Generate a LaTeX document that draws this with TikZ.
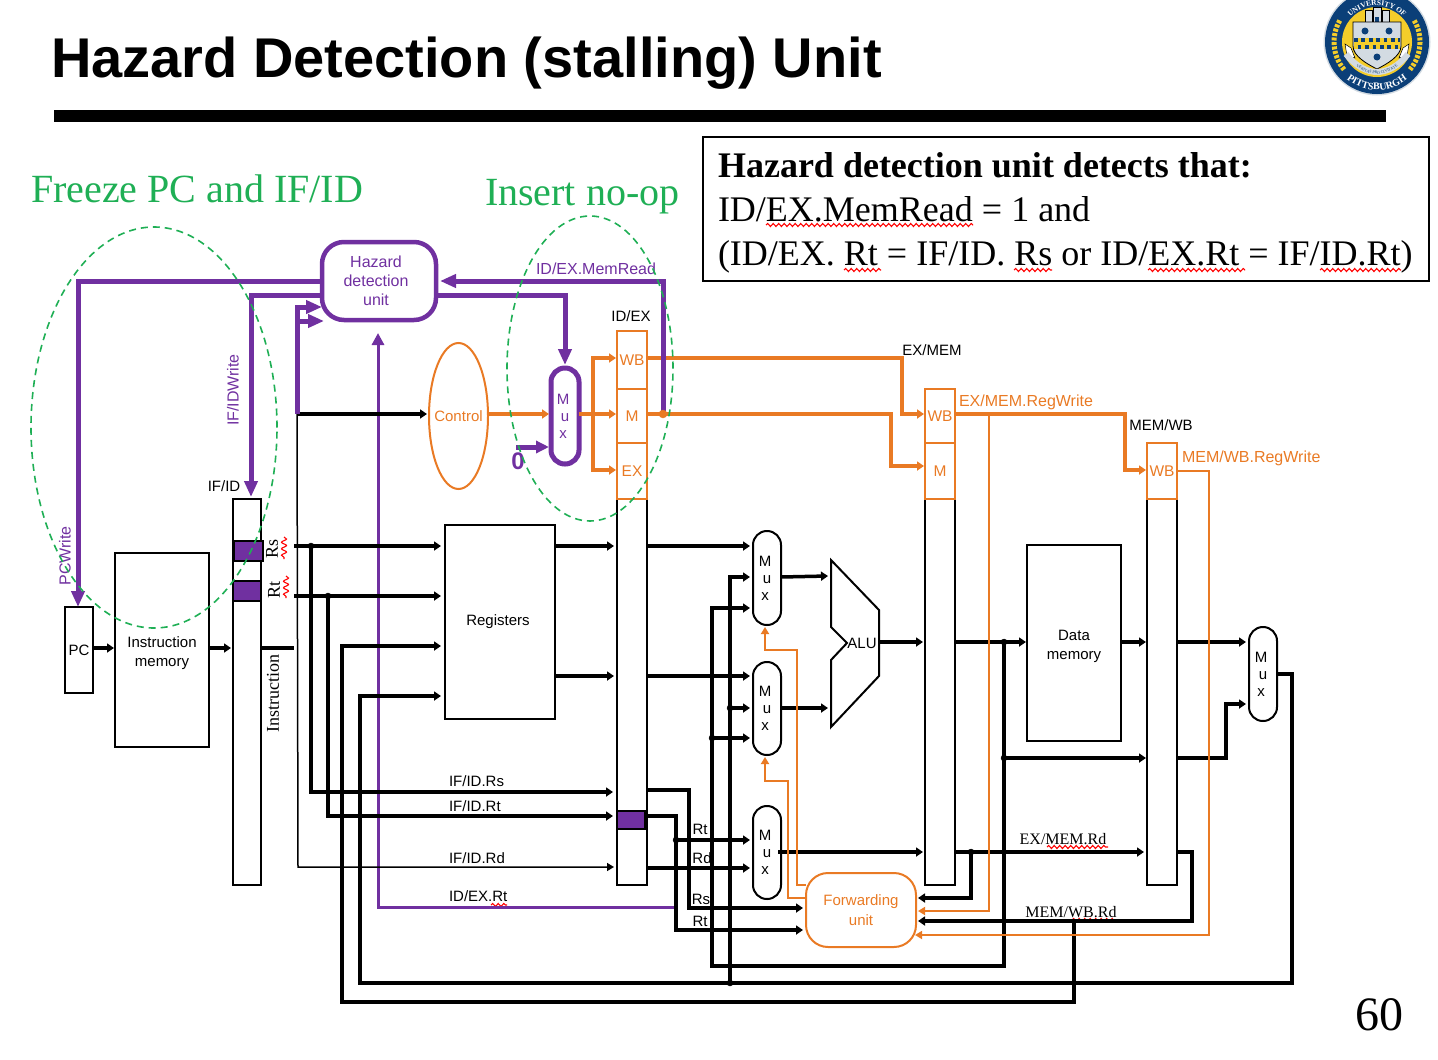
\documentclass[tikz,border=0pt]{standalone}
\usepackage{fontspec}
\usetikzlibrary{arrows.meta,decorations.pathmorphing,decorations.text,shapes.geometric}
\setmainfont{Liberation Sans}
\newfontfamily\timesfont{Liberation Serif}
\definecolor{hazpurple}{HTML}{7030A0}
\definecolor{fwdorange}{HTML}{E97A24}
\definecolor{notegreen}{HTML}{1FAF55}
\definecolor{sealnavy}{HTML}{0B3F78}
\definecolor{sealgold}{HTML}{F4CD2A}
\definecolor{sealgray}{HTML}{D3DBE2}
\newcommand{\muxtext}{M\hspace*{4pt}\\u\hspace*{4pt}\\x\hspace*{4pt}}
\tikzset{
  wh/.style 2 args={minimum width=#1pt,minimum height=#2pt},
  blockbox/.style={draw=black,line width=2pt,inner sep=0pt,outer sep=0pt,align=center,font=\fontsize{15}{19}\selectfont},
  muxbox/.style={blockbox,rounded corners=13.9pt,font=\fontsize{15}{17}\selectfont},
  cellbox/.style={draw=fwdorange,text=fwdorange,line width=2pt,inner sep=0pt,outer sep=0pt,font=\fontsize{15.5}{18}\selectfont},
  stagebox/.style={draw=black,fill=hazpurple,line width=2pt,inner sep=0pt,outer sep=0pt},
  ringnote/.style={draw=notegreen,line width=1.6pt,dash pattern=on 7pt off 5pt,ellipse,inner sep=0pt,outer sep=0pt},
  lab/.style={inner sep=0pt,outer sep=0pt,font=\fontsize{15}{18}\selectfont},
  purplelab/.style={lab,text=hazpurple,font=\fontsize{16}{18}\selectfont},
  orangelab/.style={lab,text=fwdorange,font=\fontsize{16}{18}\selectfont},
  seriflab/.style={lab,font=\timesfont\fontsize{16}{18}\selectfont},
  notelab/.style={lab,anchor=base west,font=\timesfont\fontsize{36}{40}\selectfont},
  greenlab/.style={lab,anchor=base west,text=notegreen,font=\timesfont\fontsize{40}{44}\selectfont},
  datawire/.style={draw=black,line width=3.5pt,-{Triangle[length=7pt,width=9pt]}},
  dataline/.style={draw=black,line width=3.5pt},
  thinwire/.style={draw=black,line width=1.5pt,-{Triangle[length=7pt,width=8pt]}},
  ctlwire/.style={draw=hazpurple,line width=5pt,-{Triangle[length=16pt,width=13pt]}},
  ctlthin/.style={draw=hazpurple,line width=3pt,-{Triangle[length=12pt,width=12pt]}},
  orangewire/.style={draw=fwdorange,line width=3.5pt,-{Triangle[length=7pt,width=9pt]}},
  orangethin/.style={draw=fwdorange,line width=2pt,-{Triangle[length=7pt,width=8pt]}},
  redwave/.style={draw=red,line width=1.1pt,decorate,decoration={snake,amplitude=1.5pt,segment length=5.5pt}},
  redwaveup/.style={draw=red,line width=1.1pt,decorate,decoration={snake,amplitude=2.5pt,segment length=6.5pt}}
}
\begin{document}
\begin{tikzpicture}[x=1pt,y=-1pt]
\useasboundingbox (0,0) rectangle (1438,1060);

\node[lab,anchor=base west,font=\bfseries\fontsize{56}{60}\selectfont] (titleText) at (51,77) {Hazard Detection (stalling) Unit};
\fill[black] (54,110) rectangle (1386,122);
\node[lab,font=\timesfont\fontsize{48}{50}\selectfont] (pageNum) at (1379,1015) {60};

\begin{scope}[shift={(1377,42)},x=1pt,y=1pt]
\fill[sealgray] (0,0) circle (53.5pt);
\fill[sealnavy] (0,0) circle (52pt);
\fill[sealgold] (0,0) circle (35pt);
\draw[sealgold,line width=5pt,dash pattern=on 3pt off 1.5pt] (150:43pt) arc[start angle=150,end angle=220,radius=43pt];
\draw[sealgold,line width=5pt,dash pattern=on 3pt off 1.5pt] (30:43pt) arc[start angle=30,end angle=-40,radius=43pt];
\path[decorate,decoration={text along path,text align=center,text={|\color{white}\timesfont\bfseries\fontsize{7.5}{8}\selectfont|UNIVERSITY OF}}] (160:36.5pt) arc[start angle=160,end angle=20,radius=36.5pt];
\path[decorate,decoration={text along path,text align=center,text={|\color{white}\timesfont\bfseries\fontsize{10}{10}\selectfont|PITTSBURGH}}] (215:48pt) arc[start angle=215,end angle=325,radius=48pt];
\fill[sealgray,draw=black,line width=.5pt] (-12,20) rectangle (-5,32);
\fill[sealgray,draw=black,line width=.5pt] (-4,20) rectangle (4,35);
\fill[sealgray,draw=black,line width=.5pt] (5,20) rectangle (12,32);
\fill[sealnavy] (-2,20) rectangle (2,25);
\draw[fill=sealgray,draw=black,line width=.8pt] (-24,20) -- (24,20) -- (24,-4) .. controls (24,-14) and (10,-22) .. (0,-27) .. controls (-10,-22) and (-24,-14) .. (-24,-4) -- cycle;
\fill[sealgold] (-23,4) rectangle (23,-7);
\draw[sealnavy,line width=3.7pt,dash pattern=on 3.7pt off 3.7pt] (-23,2.2) -- (23,2.2);
\draw[sealnavy,line width=3.7pt,dash pattern=on 3.7pt off 3.7pt] (-19.3,-5.2) -- (23,-5.2);
\fill[sealnavy] (-12,11) circle (3.5pt);
\fill[sealnavy] (12,11) circle (3.5pt);
\fill[sealnavy] (0,-15) circle (3.5pt);
\fill[white,draw=black,line width=.5pt] (-32,-2) -- (-26,-6) -- (-22,-16) -- (-30,-14) -- cycle;
\fill[white,draw=black,line width=.5pt] (32,-2) -- (26,-6) -- (22,-16) -- (30,-14) -- cycle;
\draw[sealgray,line width=6pt] (-31,-12) .. controls (-22,-24) and (-10,-30) .. (0,-30) .. controls (10,-30) and (22,-24) .. (31,-12);
\path[decorate,decoration={text along path,text align=center,text={|\color{sealnavy}\timesfont\fontsize{4}{4}\selectfont|VERITAS PRO CIVITATE}}] (-31,-14) .. controls (-22,-26) and (-10,-32) .. (0,-32) .. controls (10,-32) and (22,-26) .. (31,-14);
\end{scope}

\node[draw=black,line width=2pt,inner sep=0pt,outer sep=0pt,wh={726}{144}] (noteBox) at (1066,209) {};
\node[notelab,font=\timesfont\bfseries\fontsize{36}{40}\selectfont] (noteHead) at (718,177) {Hazard detection unit detects that:};
\node[notelab] (noteLineA) at (718,221) {ID/EX.MemRead = 1 and};
\node[notelab] (noteLineB) at (718,265) {(ID/EX. Rt = IF/ID. Rs or ID/EX.Rt = IF/ID.Rt)};
\draw[redwave] (766,225) -- (973,225);
\draw[redwave] (844,270) -- (881,270);
\draw[redwave] (1014,270) -- (1052,270);
\draw[redwave] (1148,270) -- (1245,270);
\draw[redwave] (1320,270) -- (1401,270);

\node[greenlab] (freezeText) at (31,202) {Freeze PC and IF/ID};
\node[greenlab] (insertText) at (485,205) {Insert no-op};

\node[blockbox,wh={28}{86}] (pcBox) at (79,650) {PC};
\node[blockbox,wh={94}{194}] (instrMem) at (162,650) {\rule{0pt}{17pt}Instruction\\memory};
\node[blockbox,wh={110}{194}] (registers) at (500,622) {Registers\hspace*{4pt}};
\node[blockbox,wh={94}{196}] (dataMem) at (1074,643) {\rule{0pt}{17pt}Data\\memory};
\node[blockbox,wh={28}{386}] (ifidReg) at (247,692) {};
\node[blockbox,wh={30}{386}] (idexReg) at (632,692) {};
\node[blockbox,wh={30}{386}] (exmemReg) at (940,692) {};
\node[blockbox,wh={30}{386}] (memwbReg) at (1162,692) {};
\node[stagebox,wh={29}{20}] (rsSlot) at (248.5,551) {};
\node[stagebox,wh={28}{20}] (rtSlot) at (247,591) {};
\node[stagebox,wh={28}{18}] (rtFwdSlot) at (631,820) {};

\node[cellbox,wh={30}{58}] (idexWb) at (632,360) {WB};
\node[cellbox,wh={30}{54}] (idexM) at (632,416) {M};
\node[cellbox,wh={30}{56}] (idexEx) at (632,471) {EX};
\node[cellbox,wh={30}{54}] (exmemWb) at (940,416) {WB};
\node[cellbox,wh={30}{56}] (exmemM) at (940,471) {M};
\node[cellbox,wh={30}{56}] (memwbWb) at (1162,471) {WB};

\node[muxbox,wh={28}{94}] (muxA) at (767,578) {\muxtext};
\node[muxbox,wh={28}{93}] (muxB) at (767,708.5) {\muxtext};
\node[muxbox,wh={28}{93}] (muxC) at (767,852.5) {\muxtext};
\node[muxbox,wh={28}{94}] (muxD) at (1263,674) {\muxtext};
\node[muxbox,draw=hazpurple,text=hazpurple,line width=5pt,wh={28}{96}] (muxStall) at (565,416) {\muxtext};

\node[draw=hazpurple,line width=4.5pt,rounded corners=22pt,inner sep=0pt,outer sep=0pt,wh={114}{78}] (hazard) at (379,281) {};
\node[lab,text=hazpurple,align=center,font=\fontsize{16}{19}\selectfont] (hazardText) at (376,281) {Hazard\\detection\\unit};
\node[draw=fwdorange,text=fwdorange,line width=2pt,ellipse,inner ysep=0pt,inner xsep=-8pt,outer sep=0pt,font=\fontsize{15}{18}\selectfont,wh={59}{146}] (control) at (458.5,416) {Control};
\node[draw=fwdorange,text=fwdorange,line width=2pt,rounded corners=22pt,inner sep=0pt,outer sep=0pt,align=center,font=\fontsize{15}{20}\selectfont,wh={110}{74}] (fwdUnit) at (861,910) {Forwarding\\unit};

\draw[line width=2pt,line join=miter] (831,560) -- (879,610) -- (879,676) -- (831,727) -- (831,660) -- (847,643) -- (831,627) -- cycle;
\node[lab] (aluText) at (862,643) {ALU};

\node[lab] (ifidText) at (224,486) {IF/ID};
\node[lab] (idexText) at (631,316) {ID/EX};
\node[lab] (exmemText) at (932,350) {EX/MEM};
\node[lab] (memwbText) at (1161,425) {MEM/WB};
\node[lab,anchor=base west] (rsLabel) at (449,786) {IF/ID.Rs};
\node[lab,anchor=base west] (rtLabel) at (449,811) {IF/ID.Rt};
\node[lab,anchor=base west] (rdLabel) at (449,863) {IF/ID.Rd};
\node[lab,anchor=base west] (idexRtLabel) at (449,901) {ID/EX.Rt};
\node[lab] (fwdRt) at (700,829) {Rt};
\node[lab] (fwdRd) at (702,858) {Rd};
\node[lab] (fwdRs) at (701,899) {Rs};
\node[lab] (fwdRtB) at (700,921) {Rt};
\node[seriflab,rotate=90,font=\timesfont\fontsize{18}{20}\selectfont] (rsText) at (272,549) {Rs};
\node[seriflab,rotate=90,font=\timesfont\fontsize{18}{20}\selectfont] (rtText) at (274,590) {Rt};
\node[seriflab,rotate=90,font=\timesfont\fontsize{18}{20}\selectfont] (instrText) at (273,693) {Instruction};
\node[seriflab] (exmemRd) at (1063,839) {EX/MEM.Rd};
\node[seriflab] (memwbRd) at (1071,912) {MEM/WB.Rd};
\node[purplelab,rotate=90] (ifidWrite) at (233,390) {IF/IDWrite};
\node[purplelab,rotate=90] (pcWrite) at (65,556) {PCWrite};
\node[purplelab,anchor=west] (memReadText) at (536,269) {ID/EX.MemRead};
\node[lab,text=hazpurple,font=\bfseries\fontsize{24}{26}\selectfont] (zeroText) at (518,461) {0};
\node[orangelab,anchor=west] (exmemRegWrite) at (959,402) {EX/MEM.RegWrite};
\node[orangelab,anchor=west] (memwbRegWrite) at (1182,458) {MEM/WB.RegWrite};
\draw[redwave] (491,905) -- (507,905);
\draw[redwave] (1047,847) -- (1108,847);
\draw[redwave] (1072,920) -- (1117,920);
\draw[redwaveup] (284,537) -- (284,559);
\draw[redwaveup] (286,576) -- (286,598);

\coordinate (rtBack) at (676,907);
\coordinate (hazBottom) at (378,333);
\draw[ctlthin] (rtBack) -| (hazBottom);

\coordinate (pcOut) at (93,648);
\coordinate (imIn) at (114,648);
\coordinate (imOut) at (209,648);
\coordinate (ifidIn) at (231,648);
\coordinate (instrOut) at (261,648);
\coordinate (instrEnd) at (294,648);
\draw[datawire] (pcOut) -- (imIn);
\draw[datawire] (imOut) -- (ifidIn);
\draw[dataline] (instrOut) -- (instrEnd);

\coordinate (ctrlTap) at (297,414);
\coordinate (ctrlIn) at (427,414);
\coordinate (rdBend) at (298,867);
\coordinate (rdEnd) at (614,867);
\draw[datawire] (ctrlTap) -- (ctrlIn);
\draw[thinwire] (ctrlTap) -- (rdBend) -- (rdEnd);

\coordinate (rsOut) at (294,546);
\coordinate (regRs) at (441,546);
\coordinate (rsTap) at (311,546);
\coordinate (rsEnd) at (613,792);
\coordinate (rtOut) at (294,596);
\coordinate (regRt) at (441,596);
\coordinate (rtTap) at (328,596);
\coordinate (rtEnd) at (613,816);
\draw[datawire] (rsOut) -- (regRs);
\draw[datawire] (rsTap) |- (rsEnd);
\draw[datawire] (rtOut) -- (regRt);
\draw[datawire] (rtTap) |- (rtEnd);
\filldraw[black] (rsTap) circle (3pt);
\filldraw[black] (rtTap) circle (3pt);

\coordinate (mwOut) at (1177,852);
\coordinate (mwBend) at (1192,852);
\coordinate (mwFwd) at (918,921);
\coordinate (mwTap) at (1074,921);
\coordinate (mwLow) at (1074,1002);
\coordinate (mwLeft) at (342,1002);
\coordinate (regRd) at (441,646);
\draw[datawire] (mwOut) -- (mwBend) |- (mwFwd);
\draw[datawire] (mwTap) -- (mwLow) -- (mwLeft) |- (regRd);

\coordinate (muxDOut) at (1277,674);
\coordinate (wbRight) at (1292,674);
\coordinate (wbCorner) at (1292,983);
\coordinate (wbLeft) at (360,983);
\coordinate (regData) at (441,696);
\coordinate (wbTap) at (730,983);
\coordinate (muxAb) at (750,577);
\coordinate (muxBbTap) at (730,708);
\coordinate (muxBb) at (750,708);
\draw[datawire] (muxDOut) -- (wbRight) -- (wbCorner) -- (wbLeft) |- (regData);
\draw[datawire] (wbTap) |- (muxAb);
\draw[datawire] (muxBbTap) -- (muxBb);
\filldraw[black] (wbTap) circle (3pt);
\filldraw[black] (muxBbTap) circle (3pt);

\coordinate (regOutA) at (555,546);
\coordinate (idexInA) at (614,546);
\coordinate (regOutB) at (555,676);
\coordinate (idexInB) at (614,676);
\coordinate (idexOutA) at (647,546);
\coordinate (muxAa) at (750,546);
\coordinate (idexOutB) at (647,676);
\coordinate (muxBa) at (750,676);
\draw[datawire] (regOutA) -- (idexInA);
\draw[datawire] (regOutB) -- (idexInB);
\draw[datawire] (idexOutA) -- (muxAa);
\draw[datawire] (idexOutB) -- (muxBa);

\coordinate (exTap) at (1004,642);
\coordinate (exCorner) at (1004,966);
\coordinate (exLeft) at (712,966);
\coordinate (muxAc) at (750,608);
\coordinate (muxBcTap) at (712,738);
\coordinate (muxBc) at (750,738);
\draw[datawire] (exTap) -- (exCorner) -- (exLeft) |- (muxAc);
\draw[datawire] (muxBcTap) -- (muxBc);
\filldraw[black] (muxBcTap) circle (3pt);

\coordinate (muxAOut) at (781,577);
\coordinate (aluA) at (828,576);
\coordinate (muxBOut) at (781,708);
\coordinate (aluB) at (828,708);
\coordinate (aluOut) at (879,642);
\coordinate (exmemIn) at (923,642);
\draw[datawire] (muxAOut) -- (aluA);
\draw[datawire] (muxBOut) -- (aluB);
\draw[datawire] (aluOut) -- (exmemIn);

\coordinate (exmemOut) at (955,642);
\coordinate (dmIn) at (1026,642);
\coordinate (bypassTap) at (1004,758);
\coordinate (bypassIn) at (1146,758);
\coordinate (dmOut) at (1121,642);
\coordinate (memwbIn) at (1146,642);
\coordinate (memwbOut) at (1177,642);
\coordinate (muxDa) at (1246,642);
\coordinate (bypassOut) at (1177,758);
\coordinate (bypassBend) at (1226,758);
\coordinate (muxDb) at (1246,704);
\draw[datawire] (exmemOut) -- (dmIn);
\draw[datawire] (bypassTap) -- (bypassIn);
\draw[datawire] (dmOut) -- (memwbIn);
\draw[datawire] (memwbOut) -- (muxDa);
\draw[datawire] (bypassOut) -- (bypassBend) |- (muxDb);
\filldraw[black] (exTap) circle (3pt);
\filldraw[black] (bypassTap) circle (3pt);

\coordinate (muxCOut) at (778,852);
\coordinate (rdExmemIn) at (923,852);
\coordinate (rdExmemOut) at (955,852);
\coordinate (rdMemwbIn) at (1144,852);
\coordinate (rdTap) at (971,852);
\coordinate (rdFwd) at (918,898);
\draw[datawire] (muxCOut) -- (rdExmemIn);
\draw[datawire] (rdExmemOut) -- (rdMemwbIn);
\draw[datawire] (rdTap) |- (rdFwd);
\filldraw[black] (rdTap) circle (3pt);

\coordinate (rsIdexOut) at (647,790);
\coordinate (rsBend) at (689,790);
\coordinate (fwdRsIn) at (803,908);
\coordinate (rtIdexOut) at (645,816);
\coordinate (rtBend) at (676,816);
\coordinate (fwdRtIn) at (803,930);
\coordinate (muxCaTap) at (676,840);
\coordinate (muxCa) at (750,840);
\coordinate (rdIdexOut) at (647,868);
\coordinate (muxCb) at (750,868);
\draw[datawire] (rsIdexOut) -- (rsBend) |- (fwdRsIn);
\draw[datawire] (rtIdexOut) -- (rtBend) |- (fwdRtIn);
\draw[datawire] (muxCaTap) -- (muxCa);
\draw[datawire] (rdIdexOut) -- (muxCb);
\filldraw[black] (muxCaTap) circle (3pt);

\coordinate (ctrlOut) at (488,414);
\coordinate (muxStallIn) at (549,414);
\coordinate (muxStallOut) at (579,414);
\coordinate (idexMIn) at (616,414);
\coordinate (branchTap) at (593,414);
\coordinate (idexWbIn) at (616,358);
\coordinate (idexExIn) at (616,470);
\draw[orangewire] (ctrlOut) -- (muxStallIn);
\draw[orangewire] (muxStallOut) -- (idexMIn);
\draw[orangewire] (branchTap) |- (idexWbIn);
\draw[orangewire] (branchTap) |- (idexExIn);

\coordinate (wbOutA) at (647,358);
\coordinate (wbBendA) at (902,358);
\coordinate (exmemWbIn) at (924,414);
\coordinate (mOutA) at (647,414);
\coordinate (mBendA) at (891,414);
\coordinate (exmemMIn) at (924,466);
\coordinate (regWriteOut) at (955,414);
\coordinate (regWriteBend) at (1125,414);
\coordinate (memwbWbIn) at (1146,470);
\draw[orangewire] (wbOutA) -- (wbBendA) |- (exmemWbIn);
\draw[orangewire] (mOutA) -- (mBendA) |- (exmemMIn);
\draw[orangewire] (regWriteOut) -- (regWriteBend) |- (memwbWbIn);

\coordinate (regWriteTap) at (989,414);
\coordinate (fwdExWrite) at (918,911);
\coordinate (memRegOut) at (1177,471);
\coordinate (memRegBend) at (1209,471);
\coordinate (fwdMemWrite) at (915,935);
\draw[orangethin] (regWriteTap) |- (fwdExWrite);
\draw[orangethin] (memRegOut) -- (memRegBend) |- (fwdMemWrite);

\coordinate (fwdSelA) at (806,885);
\coordinate (selBendA) at (797,885);
\coordinate (selTopA) at (765,650);
\coordinate (muxASel) at (765,627);
\coordinate (fwdSelB) at (806,898);
\coordinate (selBendB) at (788,898);
\coordinate (selTopB) at (765,781);
\coordinate (muxBSel) at (765,757);
\draw[orangethin] (fwdSelA) -- (selBendA) |- (selTopA) -- (muxASel);
\draw[orangethin] (fwdSelB) -- (selBendB) |- (selTopB) -- (muxBSel);

\coordinate (hazWestA) at (322,281);
\coordinate (pcWriteTip) at (78,607);
\coordinate (hazWestB) at (322,295);
\coordinate (ifidWriteTip) at (251,497);
\coordinate (stallTap) at (297,321);
\coordinate (hazInA) at (322,307);
\coordinate (hazInB) at (324,321);
\coordinate (memReadTap) at (663,414);
\coordinate (hazEastA) at (440,281);
\coordinate (hazEastB) at (436,295);
\coordinate (muxStallTop) at (565,365);
\coordinate (zeroIn) at (516,447);
\coordinate (muxStallZero) at (549,447);
\draw[ctlwire] (hazWestA) -| (pcWriteTip);
\draw[ctlwire] (hazWestB) -| (ifidWriteTip);
\draw[ctlwire] (ctrlTap) |- (hazInA);
\draw[ctlwire] (stallTap) -- (hazInB);
\draw[ctlwire] (memReadTap) |- (hazEastA);
\draw[ctlwire] (hazEastB) -| (muxStallTop);
\draw[ctlwire,-{Triangle[length=13pt,width=12pt]}] (zeroIn) -- (muxStallZero);
\filldraw[fwdorange] (memReadTap) circle (4pt);

\node[ringnote,wh={246}{401}] (freezeRing) at (154,427.5) {};
\node[ringnote,wh={166}{305}] (insertRing) at (590,368.5) {};
\end{tikzpicture}
\end{document}
